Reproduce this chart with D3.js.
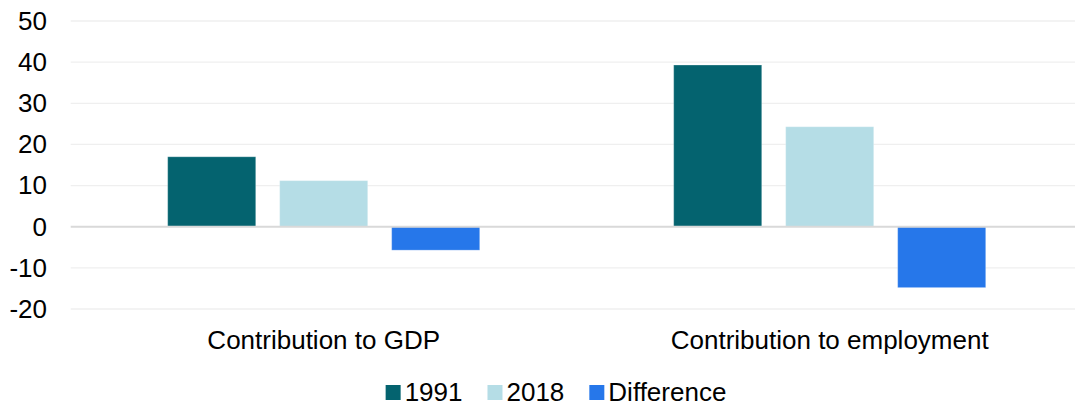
<!DOCTYPE html>
<html>
<head>
<meta charset="utf-8">
<script src="https://cdn.jsdelivr.net/npm/d3@7"></script>
<style>
  html, body { margin: 0; padding: 0; background: #fff; }
  svg { display: block; font-family: "Liberation Sans", Arial, sans-serif; }
</style>
</head>
<body>
<svg id="chart" width="1075" height="407"></svg>
<script>
// Categories, series and values
const categories = ["Contribution to GDP", "Contribution to employment"];
const seriesNames = ["1991", "2018", "Difference"];
const values1991 = [17.0, 39.3];
const values2018 = [11.2, 24.3];
const valuesDifference = [-5.7, -14.8];
const yTicks = [-20, -10, 0, 10, 20, 30, 40, 50];
const yTickLabels = ["-20", "-10", "0", "10", "20", "30", "40", "50"];
const seriesColors = ["#04636F", "#B5DDE6", "#2677EA"];

const seriesValues = [values1991, values2018, valuesDifference];
const rows = categories.map((c, i) => ({
  category: c,
  bars: seriesNames.map((s, j) => ({ series: s, value: seriesValues[j][i] }))
}));

const svg = d3.select("#chart");
const fontSize = 26;

const y = d3.scaleLinear().domain([-20, 50]).range([309, 21]);
const x0 = d3.scaleBand().domain(categories).range([70.7, 1082.7]);
const x1 = d3.scaleBand().domain(seriesNames)
  .range([0, x0.bandwidth()])
  .paddingInner(0.214)
  .paddingOuter(0.866);
const color = d3.scaleOrdinal().domain(seriesNames).range(seriesColors);

// Horizontal gridlines
svg.append("g")
  .selectAll("line")
  .data(yTicks.filter(t => t !== 0))
  .join("line")
  .attr("x1", 70.7).attr("x2", 1075)
  .attr("y1", d => y(d)).attr("y2", d => y(d))
  .attr("stroke", "#EFEFEF").attr("stroke-width", 1.3);

// Y axis labels (plain hyphen for negatives)
const yAxis = svg.append("g")
  .attr("transform", "translate(47,0)")
  .call(d3.axisLeft(y).tickValues(yTicks).tickSize(0).tickPadding(0)
    .tickFormat((d, i) => yTickLabels[i]));
yAxis.select(".domain").remove();
yAxis.selectAll("text")
  .attr("font-size", fontSize)
  .attr("font-family", "Liberation Sans, Arial, sans-serif")
  .attr("fill", "#000");

// Bars
const groups = svg.append("g")
  .selectAll("g")
  .data(rows)
  .join("g")
  .attr("transform", d => `translate(${x0(d.category)},0)`);

groups.selectAll("rect")
  .data(d => d.bars)
  .join("rect")
  .attr("x", d => x1(d.series))
  .attr("width", x1.bandwidth())
  .attr("y", d => y(Math.max(0, d.value)))
  .attr("height", d => Math.abs(y(d.value) - y(0)))
  .attr("fill", d => color(d.series))
  .attr("stroke", "rgba(255,255,255,0.25)")
  .attr("stroke-width", 1);

// Zero line
svg.append("line")
  .attr("x1", 70.7).attr("x2", 1075)
  .attr("y1", y(0)).attr("y2", y(0))
  .attr("stroke", "#D9D9D9").attr("stroke-width", 2);

// Category labels
svg.append("g")
  .selectAll("text")
  .data(categories)
  .join("text")
  .attr("x", d => x0(d) + x0.bandwidth() / 2)
  .attr("y", 349)
  .attr("text-anchor", "middle")
  .attr("font-size", fontSize)
  .attr("fill", "#000")
  .text(d => d);

// Legend
const legend = svg.append("g");
let cursor = 0;
seriesNames.forEach(name => {
  const item = legend.append("g").attr("transform", `translate(${cursor},0)`);
  item.append("rect")
    .attr("x", 0).attr("y", 385).attr("width", 15).attr("height", 15)
    .attr("fill", color(name));
  const t = item.append("text")
    .attr("x", 19).attr("y", 401)
    .attr("font-size", fontSize)
    .attr("fill", "#000")
    .text(name);
  cursor += 19 + t.node().getComputedTextLength() + 25;
});
const legendWidth = cursor - 25;
legend.attr("transform", `translate(${556 - legendWidth / 2},0)`);
</script>
</body>
</html>
